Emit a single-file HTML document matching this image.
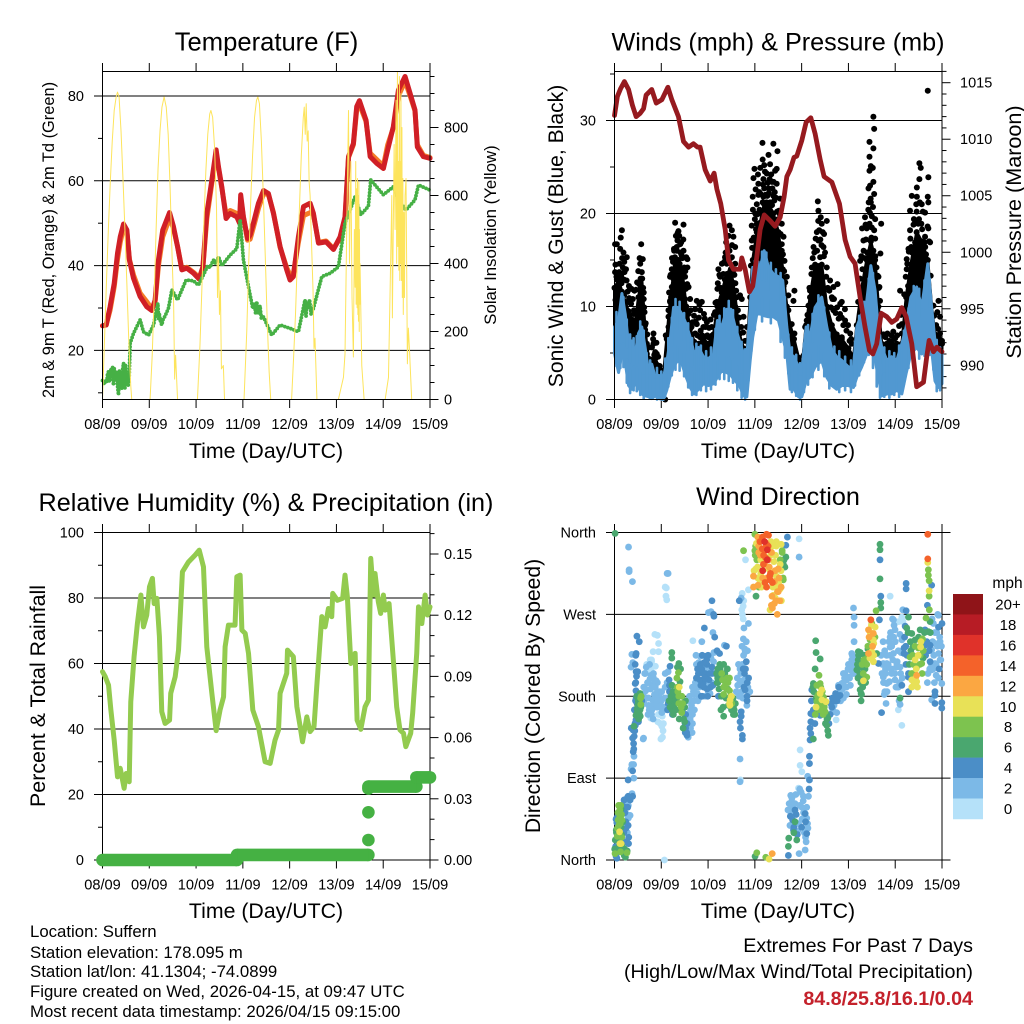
<!DOCTYPE html>
<html lang="en">
<head>
<meta charset="utf-8">
<title>Weather station dashboard</title>
<style>
html,body{margin:0;padding:0;background:#fff;}
svg{display:block;}
text{font-family:"Liberation Sans",Arial,sans-serif;fill:#000;}
.title{font-size:25.2px;text-anchor:middle;}
.axt{font-size:21.3px;text-anchor:middle;}
.foot{font-size:16.8px;}
.ext{font-size:19.7px;text-anchor:end;}
</style>
</head>
<body>
<svg id="chart" xmlns="http://www.w3.org/2000/svg" width="1024" height="1024" viewBox="0 0 1024 1024">
<rect x="0" y="0" width="1024" height="1024" fill="#fff"/>
<defs>
<clipPath id="clip-temp"><rect x="102.5" y="71.5" width="327.5" height="328"/></clipPath>
</defs>
<g id="p1"></g>
<g id="p2"></g>
<g id="p3"></g>
<g id="p4"></g>
<g id="cb"></g>

<text class="title" x="266.5" y="50.5" style="font-size:25.6px">Temperature (F)</text>
<text class="title" x="778" y="50.5">Winds (mph) &amp; Pressure (mb)</text>
<text class="title" x="266" y="511">Relative Humidity (%) &amp; Precipitation (in)</text>
<text class="title" x="778" y="505">Wind Direction</text>

<text class="axt" x="266" y="458">Time (Day/UTC)</text>
<text class="axt" x="778" y="458">Time (Day/UTC)</text>
<text class="axt" x="266" y="918">Time (Day/UTC)</text>
<text class="axt" x="778" y="918">Time (Day/UTC)</text>

<text font-size="16.4" text-anchor="middle" transform="translate(54,240) rotate(-90)">2m &amp; 9m T (Red, Orange) &amp; 2m Td (Green)</text>
<text font-size="16.8" text-anchor="middle" transform="translate(496,235) rotate(-90)">Solar Insolation (Yellow)</text>
<text font-size="21.1" text-anchor="middle" transform="translate(563,236) rotate(-90)">Sonic Wind &amp; Gust (Blue, Black)</text>
<text font-size="21.6" text-anchor="middle" transform="translate(1021,232) rotate(-90)">Station Pressure (Maroon)</text>
<text font-size="21.4" text-anchor="middle" transform="translate(45,696) rotate(-90)">Percent &amp; Total Rainfall</text>
<text font-size="21.1" text-anchor="middle" transform="translate(540,696) rotate(-90)">Direction (Colored By Speed)</text>

<text class="foot" x="30" y="937">Location: Suffern</text>
<text class="foot" x="30" y="958">Station elevation: 178.095 m</text>
<text class="foot" x="30" y="977">Station lat/lon: 41.1304; -74.0899</text>
<text class="foot" x="30" y="997">Figure created on Wed, 2026-04-15, at 09:47 UTC</text>
<text class="foot" x="30" y="1017">Most recent data timestamp: 2026/04/15 09:15:00</text>

<text class="ext" x="973" y="952">Extremes For Past 7 Days</text>
<text class="ext" x="973" y="978">(High/Low/Max Wind/Total Precipitation)</text>
<text class="ext" x="973" y="1005" font-weight="bold" style="fill:#c4212b">84.8/25.8/16.1/0.04</text>
</svg>

<script>
// ---------- shared tick data ----------
const dayLabels = ['08/09','09/09','10/09','11/09','12/09','13/09','14/09','15/09'];
const tempMajorTicks = [20,40,60,80];
const tempMinorTicks = [10,30,50,70];
const solarMajorTicks = [0,200,400,600,800];
const solarMinorTicks = [50,100,150,250,300,350,450,500,550,650,700,750,850,900,950];
const windMajorTicks = [0,10,20,30];
const windMinorTicks = [5,15,25,35];
const pressureMajorTicks = [990,995,1000,1005,1010,1015];
const pressureMinorTicks = [988,989,991,992,993,994,996,997,998,999,1001,1002,1003,1004,1006,1007,1008,1009,1011,1012,1013,1014,1016];
const humidityMajorTicks = [0,20,40,60,80,100];
const humidityMinorTicks = [10,30,50,70,90];
const rainMajorTicks = [0,0.03,0.06,0.09,0.12,0.15];
const rainMinorTicks = [0.01,0.02,0.04,0.05,0.07,0.08,0.1,0.11,0.13,0.14,0.16];
const directionTicks = [0,90,180,270,360];
const directionLabels = ['North','East','South','West','North'];
const speedLabels = ['20+','18','16','14','12','10','8','6','4','2','0'];
const speedColors = ['#8f1418','#b71c25','#e0322a','#f4622a','#fba742','#e8e157','#7dc34f','#4aa76f','#4b8ec7','#7cb9e7','#b5e1f9'];

// ---------- temperature panel ----------
const tempHours = [0,1.9,3.9,6,7.7,9.1,10.8,12.5,13.8,15.9,19.3,22.7,25.3,27,28.7,30.9,34.4,36.4,38.5,40.7,43.2,46.7,49.6,51.5,53.5,56.1,58.3,59.5,61.2,63.4,65.5,68.9,70.3,70.9,72.3,74.4,75.7,77.4,80,82.6,85.1,87.7,91.1,94.5,96.2,97.9,100.5,103.1,106.5,108.2,110.8,114.7,118.5,121.9,124.4,126.2,128.7,130.4,131.8,135.2,137.3,140.7,144.1,146.3,149.2,151.8,155.2,157.8,160.3,161.5,164.6,168];
const temp2m = [25.8,26,30.3,35.8,42.9,46.8,49.8,48.4,41.3,37,32.7,30.3,29.4,31.9,41.3,48.4,52.5,49.2,44.5,39,39.4,38.2,36.8,39.7,52.3,60.2,67.3,63.3,58.6,51.1,52.3,51.5,50,56.7,51.5,46.4,47.2,50,54.7,57.7,57,52.3,44.5,39,36.6,37.4,46.8,53.9,54.7,52.3,45.3,45.6,43.8,46.8,51.5,65.7,68.8,77.5,78.9,74.3,65.7,64.1,62.9,67.3,72.8,81.4,84.6,80.6,76.7,68,65.7,65.3];
const temp9m = [25.8,26,29.5,35,41.5,45.5,49,48,41.5,37.8,33.5,31.5,29.8,31.5,40,46.8,51.2,48.8,44.5,39.2,39.6,38.4,37.2,39.5,51,59.5,66.5,63,58.3,52,53,52.3,50.3,56,51.3,46,46.2,49,53.5,57,56.8,52.5,44.3,39.5,37.8,38,45.5,51.8,52.5,52,45.5,45.8,44,46.5,51,65.5,68.5,76.8,78,74,66.5,65,63.5,68.5,72.5,80,83.5,80,76.5,68.5,66,65.5];
const dewHours = [0,1,1.6,2.2,2.6,3.1,3.5,3.9,4.4,4.9,5.2,5.6,6,6.5,7,7.5,8.2,8.7,9,9.4,9.9,10.3,10.8,11.2,11.5,11.8,12.1,12.5,12.8,13.2,13.7,14.2,15.9,19.3,21,23.6,26.2,28.4,28.8,29.1,29.7,30.4,31.2,32,33.8,35.6,38.5,42.9,46.7,49.2,52.6,54,55,56.9,58,59.5,61.2,65.5,68.9,70.6,72.3,74.9,77.1,78,78.6,79.1,80,80.8,81.5,82.6,86.8,91.1,96.2,100.5,103.9,104.4,104.9,105.6,106.2,107,108.2,112.5,116.8,121,124.4,129.6,132.5,136.4,137.6,144.1,149.2,152.6,155.7,160.3,162.1,168];
const dewPoint = [12.9,12,13,12.4,14.5,15,12.6,13.5,15.8,13.5,16,11.8,15.8,13,15,12.6,9.5,15.4,12,14.5,11,15.4,17,12.5,11,16.5,15,12,14.5,11.8,13.8,21.7,24,27.2,24.4,23.6,26,31.1,27.5,28.7,27,26,27.5,28,29.9,34.3,31.9,36.6,36.4,35.4,38.6,40,39.5,41.3,40.5,42.1,40,42.5,44,50.8,41.3,35,29.9,31,28.5,31.5,28.5,30.5,27.5,27.9,23.6,26,25.2,24.4,31.9,28,31.5,29.9,32,28.5,29.9,37.4,38.2,39.7,50,56.3,52,54,60.2,56.7,58.6,55,53.1,55.5,59,57.8];
const solarHours = [0,1,2,3,4,5,6,7,7.7,8.5,9.5,10.5,11.5,12.5,13.5,14.5,15,
 24.4,25.5,26.5,27.5,28.5,29.5,30.5,31.6,32.7,33.7,34.7,35.7,36.5,37,37.5,38.5,
 48.7,50,51,52,53,54,55,55.6,56.5,57.5,58.5,59,59.5,60,60.5,61,62,62.6,
 72.6,74,75,76,77,78,79,79.7,80.5,81.5,82.5,83.5,84.5,85.5,86.3,
 97,98,99,100,101,102,103,103.5,104,104.5,105,105.5,106,106.5,107,108,108.5,109,110,
 121,123.6,124.4,125.3,126.2,126.7,127.4,128,128.7,129.2,129.6,129.9,130.1,130.4,130.6,130.8,131,131.1,131.3,131.5,131.7,131.8,132,132.1,133,134.2,
 145,146.7,147.5,148.4,148.7,149.6,150.1,150.6,150.9,151.3,151.5,151.8,152,152.3,152.5,152.6,152.9,153.1,153.3,153.6,153.8,154.1,154.3,154.6,154.9,155.2,155.7,156.4,156.9,157.4,158.6];
const solarWatts = [0,170,340,500,640,760,850,890,904,890,790,650,500,340,170,40,0,
 0,130,300,500,680,790,860,890,860,780,620,420,280,60,130,0,
 0,160,330,520,670,780,840,850,830,740,560,300,420,250,320,90,100,0,
 0,200,400,580,720,830,880,890,870,760,600,420,230,80,0,
 0,120,250,420,560,720,830,860,780,870,760,790,640,600,500,320,150,180,0,
 0,65,134,506,850,400,700,300,125,500,330,700,280,620,270,650,250,600,230,640,200,500,280,400,100,0,
 0,65,310,600,240,750,500,880,400,970,450,700,380,950,350,700,400,900,350,800,300,650,250,550,300,600,650,105,210,155,0];

// ---------- winds panel ----------
const pressureHours = [0,1.5,3.2,5.1,7.2,9.2,11.1,13.2,14.9,16.2,19.1,21.4,24.3,27.4,29.4,32.8,35.4,38,40.5,42.6,43.9,46.5,49.1,51.1,52.5,54.5,56.8,58.5,61,64.4,65.3,67,69.2,70.9,73,74.7,76.8,79.8,82.4,85,87,88.4,90.1,92.1,93.5,96.1,98.3,100.7,102.9,105.5,107.5,111.5,115.4,118.3,120.9,123.4,126,128.5,130.8,132.5,134.5,136.8,139.7,142.2,144.8,147.4,149.6,152.5,155,158.5,160.2,161.4,163.6,165.3,168];
const pressureMb = [1012.1,1013.8,1014.5,1015.1,1014.4,1013,1012,1012.3,1012.7,1013.9,1014.4,1013.2,1013.5,1014.6,1013.5,1012,1009.8,1009.3,1009.6,1009.3,1009.3,1007.3,1006.3,1007,1005.6,1004.3,1002,999.3,998.5,998.5,999.5,998.5,996.5,997,999.6,1002,1003.3,1002.8,1002.3,1003.1,1004.9,1006.7,1007.3,1008.4,1008.5,1009.9,1011.5,1011.9,1010.5,1008.2,1006.7,1006.2,1004.3,1001.1,999.6,999,996,993.4,991.3,991,991.9,994.6,994.3,993.8,994.1,995.1,994.3,991.9,988.1,988.5,990.8,992.2,991.2,991.6,991.2];
const sonicHours = [0,2.1,3.8,5.5,7.2,8.9,10.6,12.3,14,15.7,17.4,19.1,20.9,22.6,25.1,26.8,28.5,30.3,32.3,34.6,36.8,38.8,40.9,43.1,45.6,48.2,50.8,52.8,55,57.6,59.7,61.9,64.1,66.2,67.9,69.6,70.9,73,74.7,76.8,79,81.5,84.1,86.3,88.4,90.1,92.1,94.4,96.1,98.3,100.3,102.9,106.3,108.9,111.5,114,116.6,120,122.6,124.3,126.8,129.4,131.5,133.7,135.4,137.1,139.7,142.2,144.8,147.4,149.6,152,155,157.6,160.7,162.7,164.4,166.2,168];
const sonicHigh = [7.8,8.5,11.4,9.2,6,6.3,4.9,7.1,7.8,5.6,3.1,3.8,2.4,2.6,2.4,4,6.3,9.9,9.9,9.2,8.1,6.7,4.9,5.6,4.6,4.4,4.9,8.5,7.8,9.7,9.7,7.8,6.3,4.9,4.6,9.9,14.2,13.9,14.2,16,14.2,13.5,13.2,12.8,7.8,4.9,4.6,3.5,3.1,7.8,6.7,9.9,11,7.8,5.3,4.6,4.2,3.5,3.5,7.8,9.2,10.6,14.4,11.7,7.4,5.6,4.2,4.6,4.2,6,7.8,11,12.1,9.9,14.6,9.9,6.3,5.3,4.9];
const sonicLow = [4.9,2.9,4.9,4,1.5,1.1,1.7,1.3,0.6,0.4,0.3,0.1,0.4,0.1,0,1,2.4,3.5,4.2,3.8,2.4,1.3,0.6,1.1,1.7,1.5,1.7,2.4,3.1,2.9,2.6,2,1.5,0.4,0.3,4.2,6.7,9.2,9.2,9,8.9,8.9,8.5,6.7,4.9,1.1,1.1,0.3,0.3,2,2.4,3.5,4.2,2.4,1.5,1.1,1.5,1.5,1.3,2.4,3.5,4.9,5.6,4.2,2.4,0.4,0.6,0.6,1,0.6,2.8,4.9,5.6,4.9,5.6,5.3,2,1.3,1.7];
const sonicPeakHours = [1,3,4.6,6.3,8,9.8,11.4,13.2,15,16.5,18.3,21.8,24,26,27.6,29.4,31.3,33.4,35.7,37.8,39.8,42,44.3,47,49.5,51.8,53.9,56.3,58.6,60.8,63,65.2,67,68.7,70.2,72,73.8,75.7,77.9,80.2,82.8,85.2,87.4,89.2,91,93.2,95.2,97.2,99.3,101.6,104.6,107.6,110.2,112.8,115.3,118.3,121.3,123.4,125.5,128,130.4,132.6,134.5,136.2,138.4,141,143.5,146,148.5,150.8,153.5,156.3,159,161.7,163.6,165.3,167];
const sonicPeakMph = [9.4,10,11,8.6,7,6.6,6.8,8.4,7.4,5,4.2,3.4,3,4.4,6.6,8.8,10.8,10.5,9.3,8.2,6.6,6,5.8,5.2,5.6,7.6,9,9.8,10.6,9.6,7.8,6.2,5.4,7.4,12.6,14.9,14.8,15.9,15.8,14.7,14,13.6,11,7,5.6,4.8,3.9,6,8,9.2,11.2,9.9,7.2,5.7,5.2,4.6,4.2,6.2,9,10.5,13,13.6,9.9,6.9,5.6,5.2,5,5.8,7.4,9.8,12.2,11.9,12.8,13,8.5,6.4,5.6];
const sonicDipHours = [1,3,4.6,6.3,8,9.8,11.4,13.2,15,18.3,21.8,26,27.6,29.4,31.3,33.4,35.7,37.8,39.8,42,44.3,47,49.5,51.8,53.9,56.3,58.6,60.8,63,65.2,67,68.7,70.2,72,75.7,80.2,85.2,87.4,89.2,91,93.2,95.2,97.2,99.3,101.6,104.6,107.6,110.2,115.3,118.3,121.3,123.4,125.5,128,130.4,132.6,134.5,136.2,138.4,141,143.5,146,148.5,150.8,153.5,156.3,159,161.7,163.6,165.3,167];
const sonicDipMph = [3.6,3.4,3.5,1.8,0.7,1,0.9,0.5,0.1,0.1,0,0.3,1.4,2.6,3.2,3.1,2.5,1.3,0.5,0.5,1,0.9,1.1,1.6,2.2,2.2,2,1.8,1,0.2,0,2,5.2,7.5,8.4,8.2,6.2,4.5,2.8,0.8,0.4,0,0.8,1.6,2.4,3.2,2.5,1.2,0.8,1,0.8,1.5,2.6,4,4.8,3.4,1.4,0.2,0.3,0.2,0.5,0.3,1.7,3.4,4.5,4.4,4.7,4.8,3.2,0.9,1];
const gustCoreHigh = [12,12.8,11.6,10.5,9.5,8.6,8.2,11,13,7.5,4.4,3.4,4.4,3.5,2.6,6.5,10.5,13.5,15,14,10,7.6,6.2,6,6.5,6,7,10,11.5,13.5,14,11,7,5.5,5,11,15,18,19,21,21,20,18,14,10,8,6.5,4.5,3.4,8,11,14.5,14.5,10,8,7,6.5,5.5,4.5,8,12,15,17,15,10,6,6,6,6,6,11,14.5,18,17,15,10,7,6.5,6];
const gustOutlierHours = [
 0.3,1.2,3.8,3.2,2.9,4.6,6.3,2.6,4.3,0.3,1.2,3.4,5.1,6.2,7.4,8.7,10.2,13.7,14.5,13.2,14,13.4,12.7,14.7,13.1,15,7.9,10,15.4,13.4,15.7,1.7,4.9,0.5,
 15.7,20,16.6,20,20.9,21.7,16.6,17.4,20,22,23,25.1,24.3,26,27.7,27.7,27.7,28.5,
 31.1,35.4,32.8,32.3,33.7,31.9,30.6,35.4,37.4,29.4,37.4,28.5,36.2,38,29.4,34.5,36.2,38.8,42.2,44.8,41.4,43.9,39.1,38,42.2,47.4,49.9,45.6,41.4,43.9,48.2,
 59,60.2,61,58.5,57.3,61.9,56.7,53.3,60.2,61.9,64.4,62.4,54.2,52.8,52.5,51.6,61.9,66.2,65.3,67.9,56.7,59.7,58.5,
 75.9,81.5,79,83.6,76,71.8,71.3,76.8,79.8,82.4,78.1,76.4,80.7,83.2,73.8,79,74.3,70.9,76.4,81.5,85,73,72.2,78.1,84.3,70.4,73,85.8,70.4,86.7,85.8,87.2,88.4,92.3,89.2,91.8,89.2,90.9,92.3,96.9,95.7,94.7,92.6,
 104.3,104.6,105.8,106.3,108.9,103.8,107.5,104.6,102.1,107.2,105.5,101.2,108.9,102.9,110.6,114.4,112.3,100.3,116.6,111.5,99.5,112.3,98.6,115.7,118.3,97.8,120.9,121.7,116.6,
 132.8,133.2,130.8,132.8,130.8,131.5,132.5,130.8,132.8,131.1,130.3,133.2,131.5,131,128.5,133.7,136.8,129.4,132,133.7,127.7,136.4,132.8,126,129.4,135.4,135.9,146.5,143.4,
 156.4,157.1,156.4,161,155.1,160.7,152.5,155.1,157.6,161,151.6,159.3,154.2,161,151.6,161.9,159.3,150.8,149.9,156.8,149.9,153.3,151.6,166.2,163.6,165.6,167,147.4,147.4,164.4,166.2,168,160.7];
const gustOutlierMph = [
 16.7,16.7,18.2,17.4,16.2,15.8,15.3,14.6,14.2,13.7,12.9,13.3,13.7,12.8,12.2,11.9,11.7,16.7,15.1,14.6,13.7,13,12.4,12,11.1,10.8,10.4,9.6,9.4,9,8,11.3,11.2,10.7,
 6.9,7.1,6,6,5.1,4.9,4.9,4.4,4.2,3.7,2.9,2.4,2,0,7.8,8.9,9.6,10.6,
 19,18.8,18.1,17.1,16.7,16.4,16,16,15.1,14,14.2,13.2,13.2,12.1,12.1,11.7,10.8,10.8,10.6,10.5,9.7,9.6,9.6,9.2,8.1,8.3,7.8,7.8,7.1,6.7,6.7,
 18.7,18.2,17.5,17.6,16.9,16.4,15.3,14,15.3,14.6,11.2,11.7,13.2,11.9,10.5,9.4,10,8.9,10.8,7.8,11.7,12.8,13.5,
 27.6,27.5,26.3,26.7,25.8,24.8,23.8,25.2,25.3,24.6,24.3,23.7,23.4,23.2,23.2,22.7,22.3,21.8,21.8,21.9,21.6,21,20,20.7,20.3,18.7,18.9,18.9,17.1,17.5,16,14.9,13.2,11.7,11.2,10.6,9.6,8.1,7.1,4.7,4,3.1,5.3,
 21.3,20.3,19.6,18.9,19.2,18,17.8,17.1,16.4,16.4,15.3,14.2,14.2,13.5,12.8,12.4,12.1,11.7,10.5,11,10.1,9.6,8.5,9.2,8.5,7.8,7.1,6,6.7,
 30.4,29.1,27.7,27,26.1,25.1,24.9,24.6,23.4,23,22.7,22.1,21.2,20.1,19.6,19.4,18.9,18.4,18.5,17.3,17.1,15.7,16,14.9,14,13.2,12.1,11.7,6.5,
 25.4,24.9,23.7,23.9,22.8,21.8,21.9,21.8,21,21.2,20.3,20.1,19.2,18.4,18.2,16.9,17.5,16.2,15.1,15.3,14,13.2,12.1,10.6,10.1,9.4,8.9,8.1,7.1,7.8,6.7,6.3,33.2];
const gustDay1Hours = [0.5,1,1.8,2.4,3.6,3.9,5,4.8,5.9,6.7,7.5,7.9,8.5,9.4,9.8,11,11.6,12.2,12.9,13.5,14.2,15,15.2];
const gustDay1Mph = [14.5,13.2,12.9,13.7,12.5,15.2,14.8,12.9,14,11.6,10.9,12,10.3,10.8,9.2,11.8,12.6,13.8,15.2,12,13,11.5,9.9];
const gustLull1Hours = [16,16.8,17.8,18.6,19.2,19.8,20.4,21,21.5,22.4,23.2,24,24.8,25.6,26.3,17,19];
const gustLull1Mph = [8.2,7,5.6,4.3,5.6,6.5,4.8,3.9,6.1,4.6,3.6,3.1,2.9,2.1,6.9,3.5,3.2];
const gustDay2Hours = [28,28.8,29.5,30,30.5,31,31.5,32,32.7,33.2,33.8,34.2,34.8,35.3,35.8,36.3,36.8,37.3,30.2,31.4,32.4,33.4,34.4,35.5,36.6,29];
const gustDay2Mph = [11.5,13.4,15.2,14.8,16.2,15.3,17.6,16,15,17.6,15.8,16.9,15.2,17.2,14.2,13.8,15.3,12.4,13,14.4,17.9,14.6,15.5,13.6,11.9,11];
const gustLull2Hours = [40,40.8,41.6,42.5,43.3,44.2,45,45.9,46.7,47.6,48.5,49.3,50.2,51,51.8,39.5,43.6,46.3];
const gustLull2Mph = [8.3,9,8.4,6.9,8.8,7.4,6.9,9.2,7.8,6.9,7.7,8.6,6.9,9.1,10.4,7.8,10.2,8.7];
const gustDay3Hours = [53,53.8,54.5,55.1,55.8,56.3,57,57.6,58.2,59,59.6,60.3,60.8,61.5,62,62.8,63.3,54.8,56.6,58,59.4,60.6,64,65,66,67];
const gustDay3Mph = [12.5,13.4,12,14.6,13.5,14.8,15.8,14.6,16.4,16,15.2,16.6,13.8,13.4,12.5,11,9.6,10.8,12.9,12.5,13.8,12.6,8.8,7.8,7.2,6.3];
const gustStormHours = [70,70.6,71.4,72,72.6,73.2,73.8,74.4,75,75.6,76.2,76.8,77.4,78,78.6,79.2,79.8,80.4,81,81.6,82.2,82.8,83.4,84,84.6,85.2,85.8,86.4,87,87.6,71,72.4,73.6,74.8,76,77.2,78.4,79.6,80.8,82,83.2,84.4,85.6,86.8];
const gustStormMph = [14.4,16.3,17.4,19.4,18.3,19.9,22,20.4,22.1,19.9,23.1,22.7,22,21.2,23.3,22.2,21.2,24.2,22.7,23.4,22.3,21.7,20.2,19.4,20,17.8,16.7,15.6,13.8,12.6,20.4,22.6,24.2,24.9,21.2,24.5,21.9,23.7,20.9,21.4,24.8,19,15.4,12.2];
const gustDay5Hours = [99,100,101,101.7,102.5,103.2,103.9,104.5,105,105.6,106.2,106.8,107.4,108,108.6,109.4,110.2,111,111.8,112.6,113.4,114.2,115,115.8,116.6,117.4,118.2,119,119.8,120.6,121.4];
const gustDay5Mph = [9.1,12,13.5,15.2,15.8,17.3,16,19.2,18.2,17.2,16.6,18,15.4,15.8,13.2,12,11.7,9.9,10.8,10.8,9.3,9.9,8.7,10.3,8.8,8,9.7,7.4,8,6.3,6.5];
const gustDay6Hours = [125,126,126.6,127.2,127.8,128.4,129,129.6,130.2,130.8,131.4,132,132.6,133.2,133.8,134.4,135,135.6,136.2,127,128.8,130.4,131.8,133];
const gustDay6Mph = [10.5,13,15.4,14,16,15.2,17.2,15.8,20.4,18.9,21.6,19.7,20.7,18.2,15.4,14.2,13.3,12,10.6,18.4,18.8,21.2,17.4,14.5];
const gustDay7Hours = [138,139,140,141,142,143,144,145,146,147,148.6,149.4,150.2,151,151.8,152.6,153.4,154.2,155,155.8,156.6,157.4,158.2,159,159.8,160.6,161.4,162.2,150.6,152.2,153.6,154.8,156.2,157.8,159.4,160.2,163,164,165,166,167];
const gustDay7Mph = [7,6.7,7.1,6.3,6.9,7.3,6.6,6.9,7.9,9.1,11.3,13.2,14.6,15.9,17.3,15.8,18.8,16.9,20.2,18.9,21.2,18.9,20.2,16.9,15.6,18.6,17,13.3,12.2,16.4,19.4,21,19.4,18.3,16.4,14,9.1,9,8,7.6,7.1];

// ---------- humidity panel ----------
const humidityHours = [0,1.4,3.1,4.3,6,7.7,9.1,11.1,12.1,13.7,14.5,16.2,17.9,19.7,21,22.7,24.1,25.6,26.5,27.9,29.2,30.4,32.1,34.4,35,37.3,39,41,44.1,47.5,49.6,51.8,53.5,56.1,58.3,60.3,62.1,62.9,64.6,68,68.9,70.6,71.5,73.2,74.9,77.1,80,83.4,86,88.5,90.3,91.1,94.5,94.9,97.9,99.7,101.4,102.6,104.8,106.5,108.5,109.9,112.5,114.2,115.9,117.6,118.1,120.5,123.2,124.4,125.6,127.4,129.6,130.6,132.5,134.7,136.4,137.6,139,139.8,141.5,142.7,144.1,145,147,149.2,150.9,152.6,154.4,155.6,158.1,159.1,161.2,162.1,163.8,165.5,166.7,168];
const humidityPct = [57.5,56,53.4,45.8,36.6,25.4,28,21.9,26.4,23.9,48.3,62.1,72.2,80.9,71.2,74.8,83.4,86,78.3,79.9,68.2,45.3,41.7,42.7,50.9,56,64.1,88,91,93.1,94.6,89.5,65.1,50.9,39.5,45.8,49.8,65.1,71.7,71.7,86.5,87,70.2,69.2,63.1,45.8,40.7,30,29.5,36.6,39.7,50.9,57,64.1,62.1,46.8,40.7,36.1,43.7,39.2,40.7,52.9,74.3,71.2,76.8,74.3,81.4,79.3,79.9,87,80.4,60,63.1,42.7,39.9,46.8,48.8,92.1,80.9,87.5,78.8,75.3,80.9,76.3,78.3,61,46.8,39.7,38.7,34.6,38.7,44.8,63.1,77.3,72.2,80.9,74.8,77.3];
const rainHours = [0,69,69,136.4,136.4,136.4,136.4,136.4,161,161,168];
const rainInches = [0,0,0.0025,0.0025,0.0098,0.0234,0.035,0.036,0.036,0.0405,0.0405];

// ---------- wind direction panel ----------
const dirHours = [
 0.1,0.3,0.8,1.2,1,1.2,1.5,1.9,2.2,2.4,2.6,2.8,2.6,3,3.4,3.7,3.4,3.6,3.8,5,5.6,6.4,5.6,6.6,7.3,7,6.4,5.4,4.9,7,6.2,7.1,8,8,9.3,9,7,9.9,9.3,9.8,8.5,8.9,10,9.6,
 0.3,7.2,7.5,7.5,9.2,
 9.9,9.5,9.3,8.6,10.5,11,12,11.6,12,13.7,13.5,13.1,12.4,13.1,11,10.9,11.3,11.9,10.6,9.4,12.7,10.9,14.7,10,12.3,15,16,17,15.8,17,18,19,19.8,20.7,18.8,20,20.9,19.2,21.4,22,22.7,23.6,24.3,25.1,24.6,24.9,25.4,19,17.5,19.5,27,26.4,26.8,26.6,
 22,22.6,22.6,18.3,23.8,24.3,18.6,14.9,11.5,8.9,11.1,8.5,11.1,10.6,27.5,26,
 29.4,29.4,28.5,27.5,26,27.4,28.2,28,29.5,29.7,30.6,31.3,32,33.2,32.8,33.6,32.3,33,33.9,34.4,33,34.5,35.4,36.4,36.5,37.2,36,36.3,37.2,38.2,39,40,40,39.3,40,
 41.2,42.1,42,42.6,43.2,44,45,45.5,46.5,47.4,48,46,48,44.8,46.1,48.2,49.5,50,50.8,51,50.5,51.4,40.2,46.8,49.3,50,
 52.6,53.9,57.4,56.4,54,53,52.9,52.7,55,56,57.9,59,58.2,57.6,56,58.1,60,60,59.2,59,60,61,54.6,56,61,
 63,64.4,65.5,66.7,65.8,67,67,68,67.9,68.1,66.2,66.8,67.6,67.1,66.1,68.2,68.7,66.4,65.4,65.6,66,66,65.5,65.3,64,65,66.3,64.6,64.4,65,65,65.6,65.6,64.4,64.4,64.6,
 66.2,67.2,68.7,72.6,
 72,73.5,74,74.6,75.9,78,79,78,77,76.5,78.4,79,75,73,72.5,71.3,71.3,73.5,75,76,78,79.8,81,82,83,84,85,86,87,85.5,84,82.9,81.5,80.5,82.5,79.8,81,83.5,85,86.5,86.6,85.5,83,81,80,77,79,74,76,72,
 88.7,87.9,87.9,94.7,94.7,72.1,73,77.6,79.3,80.9,25.6,
 89.2,89.2,89.4,92.6,93.5,94.7,97.8,98.3,98.6,91.8,90.6,90.9,90.4,92.6,96.1,97.8,99,98.6,96.9,99.5,96.1,94.4,100,99.1,96.1,95.2,95.2,100,100,
 100.3,100.7,100.7,102,100.3,100.7,101.2,102,
 103.2,103.4,105.5,102.9,104.9,103.8,105.5,106.3,105.5,107.2,108.5,103.8,103.4,102,106.3,108,109.4,108.9,109.7,105.5,111.5,112.3,113.7,114,115.7,113.2,117.4,114.9,116.6,119.1,117.4,120.9,120,122.6,122.9,122.9,122.9,121.7,121.7,
 125.1,125,124.3,127.7,129.4,126.8,127.7,126,126.5,126.5,
 130.3,131.1,131.5,130.3,132.8,133.7,132.8,132,132.8,134.2,136.2,136.2,136.2,136.2,136.6,136.6,136.6,135.9,134.5,135.4,141.4,137,139.3,
 137.9,138.7,139.7,138.7,141.4,143.1,143.9,141.4,143.1,144.8,142.2,139.7,143.9,145.6,137.9,146.5,147.4,145.6,146.5,146,147.4,146.5,
 149.6,149.6,147.9,149.6,150.8,149.1,149.9,152.5,156.8,154.2,158,157,155.9,153,148.5,148.5,151.6,154.2,156.8,155,157.6,155,153.3,152.5,155,150.8,147.4,152.5,150.8,
 162.7,160.7,160.7,160.7,161,161,161.4,161.4,161.4,160.5,161.5,159.8,161.9,159.3,161,159.3,161.9,163.6,166.2,166.2,162.7,164.4,167,166.2,161.9,164.4,167,162.7,165,167.9,164.4,164.4,162.7,164.4,167.9,167.9];
const dirDegrees = [
 12,7,4,2,30,41,35,44,38,30,52,18,31,47,36,25,56,50,60,5,3,8,20,30,25,38,50,58,66,70,62,46,49,66,70,73,88,90,98,105,100,105,114,119,
 359,344,319,317,306,
 122,143,134,145,150,159,164,172,178,180,171,165,155,183,186,195,202,207,215,217,240,225,133,147,152,180,188,195,205,209,215,218,229,248,203,200,190,192,197,185,180,170,162,150,135,142,165,160,170,176,315,290,286,299,
 247,238,229,220,133,147,156,134,246,226,227,212,207,194,315,300,
 228,222,213,207,205,190,185,175,165,160,172,176,200,190,206,196,212,216,210,180,172,162,167,175,160,150,152,140,137,140,165,175,160,150,190,
 182,190,200,210,217,224,180,195,205,215,225,190,183,240,255,272,273,285,270,268,250,245,241,224,190,205,
 230,227,235,236,215,210,200,195,205,215,210,200,195,188,182,178,180,175,170,172,165,160,165,158,168,
 200,210,197,205,178,187,199,180,170,195,225,232,240,229,243,230,260,255,235,270,279,265,293,275,285,288,285,145,152,158,163,137,133,111,86,88,
 340,330,297,290,
 358,355,345,350,355,358,357,348,340,335,341,330,330,330,320,312,300,310,315,310,300,308,305,306,312,320,330,340,330,300,295,285,291,280,288,275,277,270,298,310,325,347,350,345,335,325,320,300,318,340,
 355,346,333,353,333,4,8,3,1,7,0,
 5,15,24,42,22,7,11,20,29,33,51,64,71,55,58,51,40,46,70,70,73,79,88,92,97,104,121,106,114,
 132,139,152,133,145,161,187,194,
 241,228,221,210,203,192,194,187,183,179,174,174,168,165,170,163,156,148,137,159,168,163,154,179,181,176,178,192,194,198,205,209,201,277,267,258,240,227,220,
 229,220,209,211,201,203,197,187,183,175,
 227,242,264,253,249,256,242,229,218,274,347,341,330,309,290,283,277,264,227,216,290,162,172,
 216,205,194,185,245,264,253,234,227,216,205,216,198,190,201,212,267,165,171,175,148,178,
 304,298,275,274,267,257,255,249,253,242,243,234,233,234,233,227,223,220,225,212,216,203,205,198,196,201,192,190,185,
 302,331,358,327,319,313,307,296,290,280,275,266,262,253,251,236,236,260,269,256,231,238,240,227,218,216,220,209,203,194,185,181,176,172,173,167];
const dirSpeeds = [
 7,8,4,5,6,5,8,8,9,7,8,10,10,8,7,8,7,8,4,6,6,8,4,3,4,4,3,4,4,4,3,3,3,4,4,3,5,3,4,3,3,3,3,4,
 6,2,2,2,2,
 4,4,4,4,4,6,6,5,7,8,8,6,6,7,4,5,4,4,4,3,4,4,3,6,4,3,3,2,3,1,2,1,1,1,2,3,3,2,2,3,2,2,2,1,1,1,2,2,2,2,2,1,1,1,
 1,1,1,1,1,1,1,3,4,3,4,3,4,4,2,1,
 6,6,4,3,2,3,5,6,6,5,6,7,8,10,8,7,7,7,7,7,8,8,7,6,5,4,7,4,4,3,3,3,3,3,3,
 3,3,4,4,3,3,4,4,4,4,4,3,3,3,4,2,3,4,4,4,3,4,1,4,4,4,
 4,4,4,3,6,7,7,6,8,7,7,8,8,8,8,7,10,7,10,10,6,7,6,6,7,
 3,3,3,4,3,4,3,4,3,4,3,3,3,3,2,3,3,2,2,1,1,1,1,1,4,3,1,4,4,4,4,4,4,2,2,1,
 8,1,1,6,
 8,12,12,14,14,14,14,12,12,14,16,12,10,8,10,12,12,10,10,12,14,14,14,12,10,12,8,8,6,12,12,12,10,12,10,10,12,12,10,8,6,10,10,10,10,12,10,8,8,8,
 4,4,6,1,2,6,8,8,10,12,1,
 4,6,6,6,6,3,3,3,4,4,3,3,2,4,3,4,3,3,3,3,1,1,4,3,1,1,1,4,4,
 4,4,4,6,4,4,5,6,
 6,6,7,6,8,8,8,10,10,8,10,8,10,5,7,8,6,6,6,5,4,3,1,4,4,4,3,3,3,3,3,3,3,2,2,2,2,3,3,
 6,6,6,7,8,7,10,7,7,6,
 12,8,14,12,12,10,10,10,10,8,6,6,4,6,4,6,6,4,6,4,1,4,2,
 2,2,2,2,2,2,2,2,2,2,2,2,2,2,2,2,1,1,2,2,1,6,
 4,4,3,4,6,4,6,6,7,6,8,10,8,7,4,4,8,10,8,8,8,12,8,10,10,5,4,10,4,
 4,14,14,10,8,8,8,10,8,4,8,8,7,4,6,4,4,2,2,4,3,2,2,2,4,3,2,2,2,3,4,4,2,4,4,4];

const dirNorthHours = [.4,.9,1.4,1.8,2.1,2.5,2.9,3.2,3.6,4,.6,1.3,2,2.7,3.4,4.2,4.8,5.3,5.8,6.3,6.8,7.2,5.2,5.9,6.5,7.1,.8,1.6,2.3,3.1,3.8];
const dirNorthDegrees = [22,33,26,52,60,46,40,60,28,15,15,12,22,55,18,42,30,52,42,68,58,18,12,35,10,60,45,48,15,9,44];
const dirNorthSpeeds = [6,7,8,8,8,8,8,8,7,6,4,6,6,8,10,6,4,4,4,3,4,4,6,4,7,3,4,4,7,8,8];
const dirBackHours = [9.8,10.1,10.4,10.7,11,11.3,11.6,11.9,12.2,12.5,12.8,13.1,13.4,10.2,10.8,11.4,12,12.6,13.2,11.1,11.7,12.3,12.9,13.5,14];
const dirBackDegrees = [128,136,142,148,154,160,166,170,175,178,160,172,178,165,175,180,168,163,158,178,162,173,180,168,175];
const dirBackSpeeds = [4,4,4,5,5,6,6,6,7,7,6,7,8,4,4,6,6,7,6,4,6,6,6,7,4];
const dirCalm1Hours = [14.5,15,15.5,16,16.5,17,17.5,18,18.5,19,19.5,20,20.5,21,21.5,22,22.5,23,23.5,24,24.5,25,25.5,26,15.2,16.3,17.2,18.2,19.2,20.2,21.2,22.2,23.2,24.2,16.8,17.8,18.8,19.8,20.8,21.8];
const dirCalm1Degrees = [180,190,205,186,215,195,178,210,188,220,170,205,182,213,175,195,160,185,150,175,158,168,178,190,172,212,160,199,165,190,178,152,168,185,178,165,208,155,196,168];
const dirCalm1Speeds = [3,2,2,2,1,2,2,1,2,1,2,2,3,1,3,2,1,2,1,2,1,2,2,3,3,2,2,2,2,3,3,1,2,3,2,2,1,2,2,2];
const dirDay2Hours = [26.5,27,27.5,28,28.5,29,29.5,30,30.5,31,31.5,32,32.5,33,33.5,34,34.5,35,35.5,36,36.5,37,28.2,29.2,30.2,31.2,32.2,33.2,34.2,35.2,36.2,27.2];
const dirDay2Degrees = [178,195,172,198,168,180,192,185,170,180,165,178,185,180,165,172,180,172,155,168,145,140,192,176,160,165,190,155,168,145,150,165];
const dirDay2Speeds = [3,3,4,4,6,6,7,6,6,7,6,7,8,8,7,8,8,8,7,6,4,4,4,6,6,7,8,6,8,6,4,4];
const dirCalm2Hours = [37.5,38,38.5,39,39.5,40,40.5,41,37.8,38.8,39.8,40.8];
const dirCalm2Degrees = [175,160,180,145,170,150,185,165,135,155,140,175];
const dirCalm2Speeds = [3,3,2,3,2,3,3,2,3,2,3,3];
const dirNight2Hours = [41.5,42,42.5,43,43.5,44,44.5,45,45.5,46,46.5,47,47.5,48,48.5,49,49.5,50,50.5,51,51.5,41.8,42.8,43.8,44.8,45.8,46.8,47.8,48.8,49.8,50.8,43.3,44.3,45.3,46.3,47.3,48.3,49.3];
const dirNight2Degrees = [195,215,183,205,190,215,180,225,205,217,180,200,188,210,198,183,222,212,192,228,205,225,175,198,210,190,213,180,205,195,218,178,192,215,200,220,195,210];
const dirNight2Speeds = [3,3,3,4,3,4,4,4,4,4,3,4,4,3,4,3,3,4,4,3,4,2,3,4,4,4,3,4,4,3,3,3,4,3,4,4,3,3];
const dirDay3Hours = [52.4,53,53.6,54.2,54.8,55.4,56,56.6,57.2,57.8,58.4,59,59.6,60.2,60.8,61.4,62,53.3,54.5,55.7,56.9,58.1,59.3,60.5,61.7];
const dirDay3Degrees = [205,195,188,210,180,198,190,205,178,200,170,186,180,172,178,165,172,180,200,168,195,188,176,166,160];
const dirDay3Speeds = [6,6,7,7,6,8,8,6,7,8,7,8,8,8,7,7,7,4,6,6,8,7,10,7,6];
const dirNight3Hours = [62.5,63.2,64,64.8,65.6,66.4,67.2,68,68.8,69.4,63.6,64.4,65.2,66,66.8,67.6,68.4];
const dirNight3Degrees = [185,192,180,205,215,190,210,175,200,185,215,195,185,210,178,218,190];
const dirNight3Speeds = [3,3,3,3,3,4,4,4,4,3,3,3,3,4,3,4,3];
const dirStormHours = [71.6,72.2,72.8,73.4,74,74.6,75.2,75.8,76.4,77,77.6,78.2,78.8,79.4,80,80.6,81.2,81.8,82.4,83,83.6,84.2,84.8,85.4,86,86.6,72.4,73.6,74.8,76,77.2,78.4,79.6,80.8,82,83.2,84.4,85.6,75.4,77.8,80.2,82.6,85,87.4];
const dirStormDegrees = [318,335,348,322,338,305,352,342,325,350,332,310,345,322,315,338,300,328,318,345,295,305,285,318,338,308,345,302,335,318,305,330,312,290,282,300,310,285,300,347,350,335,325,322];
const dirStormSpeeds = [10,8,10,10,12,10,12,14,14,16,14,12,14,12,14,12,10,10,12,10,12,10,12,10,8,8,8,12,12,16,14,16,14,12,12,10,12,10,10,14,10,10,10,6];
const dirRiseHours = [89,89.6,90.2,90.8,91.4,92,92.6,93.2,93.8,94.4,95,95.6,96.2,96.8,97.4,98,98.6,99.2,99.8,90,91,92,93,94,95,96,97,98];
const dirRiseDegrees = [55,62,48,58,44,36,62,50,28,40,60,75,45,65,30,42,58,35,78,38,68,30,72,32,78,36,52,25];
const dirRiseSpeeds = [3,3,4,3,4,4,3,4,4,3,3,2,3,3,3,4,3,3,4,3,3,6,2,3,2,4,3,3];
const dirDay5Hours = [101,101.6,102.2,102.8,103.4,104,104.6,105.2,105.8,106.4,107,107.6,108.2,108.8,109.4,110,110.6,101.8,103,104.2,105.4,106.6,107.8,109];
const dirDay5Degrees = [175,160,185,150,178,165,182,172,190,176,160,168,150,160,142,150,160,190,160,180,165,185,172,155];
const dirDay5Speeds = [5,4,6,4,7,7,8,8,8,10,8,8,7,6,6,4,4,6,8,8,8,8,8,6];
const dirNight5Hours = [111,111.8,112.6,113.4,114.2,115,115.8,116.6,117.4,118.2,119,119.8,120.6,121.4,122.2,123,123.8,112,113,114,115,116,117,118,119,120,121,122,123];
const dirNight5Degrees = [172,178,170,183,175,190,185,178,195,205,190,210,200,215,205,220,212,165,175,162,180,175,188,200,182,215,192,225,205];
const dirNight5Speeds = [4,4,3,4,4,4,3,3,3,3,3,3,2,2,2,3,2,3,4,3,4,3,3,3,2,3,2,3,3];
const dirDay6Hours = [124.6,125.2,125.8,126.4,127,127.6,128.2,128.8,129.4,130,124.9,126.1,127.3,128.5,129.7,125.5,126.7,127.9];
const dirDay6Degrees = [215,225,205,195,215,205,225,195,215,232,200,228,190,210,222,212,182,220];
const dirDay6Speeds = [6,6,7,7,8,8,7,6,8,6,6,6,7,7,8,7,7,8];
const dirGustyHours = [130,130.6,131.2,131.8,132.4,133,133.6,131,132,133];
const dirGustyDegrees = [235,245,250,258,235,225,245,222,260,238];
const dirGustySpeeds = [8,12,10,10,12,10,8,10,8,10];
const dirNight6Hours = [136.8,137.4,138,138.6,139.2,139.8,140.4,141,141.6,142.2,142.8,143.4,144,144.6,145.2,145.8,146.4,147,147.6,137.2,138.4,139.6,140.8,142,143.2,144.4,145.6,146.8,148,137.8,139,140.2,141.4,142.6,143.8,145,146.2,147.4];
const dirNight6Degrees = [225,215,195,230,205,185,215,196,250,235,220,258,240,212,190,262,248,228,200,205,182,225,240,210,245,190,230,205,262,240,210,195,225,265,205,218,195,242];
const dirNight6Speeds = [2,2,2,2,2,2,2,2,2,2,2,2,2,2,2,1,2,2,2,2,2,2,2,2,2,2,2,2,1,2,2,2,2,2,2,2,2,2];
const dirDay7Hours = [148.8,149.4,150,150.6,151.2,151.8,152.4,153,153.6,154.2,154.8,155.4,156,156.6,157.2,157.8,158.4,159,149.5,150.8,152,153.3,154.5,155.8,157,158.3];
const dirDay7Degrees = [245,235,225,250,215,240,205,225,195,235,210,190,245,215,240,205,230,250,215,205,230,215,200,225,235,222];
const dirDay7Speeds = [4,4,4,6,6,7,8,8,10,8,10,10,7,8,10,8,8,6,4,5,6,8,10,10,8,6];
const dirLateHours = [159.6,160.2,160.8,161.4,162,162.6,163.2,163.8,164.4,165,165.6,166.2,166.8,167.4,168,160.5,161.7,162.9,164.1,165.3,166.5,167.7,163.5,165.8];
const dirLateDegrees = [225,240,205,230,250,215,240,225,250,215,235,200,245,220,260,195,210,265,195,250,210,235,210,270];
const dirLateSpeeds = [4,4,3,4,6,3,2,2,3,2,2,3,2,2,4,2,3,2,2,3,4,2,2,2];

// ---------- helpers ----------
const NS = 'http://www.w3.org/2000/svg';
function make(tag, attrs, parent) {
  const el = document.createElementNS(NS, tag);
  for (const k in attrs) el.setAttribute(k, attrs[k]);
  parent.appendChild(el);
  return el;
}
function axis(d0, d1, p0, p1) {
  return function (v) { return p0 + (v - d0) / (d1 - d0) * (p1 - p0); };
}
function pointList(xs, ys, fx, fy) {
  const n = Math.min(xs.length, ys.length);
  const out = [];
  for (let i = 0; i < n; i++) out.push(fx(xs[i]).toFixed(2) + ',' + fy(ys[i]).toFixed(2));
  return out;
}
function seriesLine(parent, xs, ys, fx, fy, style) {
  const attrs = Object.assign({ points: pointList(xs, ys, fx, fy).join(' '), fill: 'none', 'stroke-linejoin': 'round', 'stroke-linecap': 'round' }, style);
  return make('polyline', attrs, parent);
}
function drawBand(parent, xs, hi, lo, fx, fy, color, width) {
  const upper = pointList(xs, hi, fx, fy);
  const lower = pointList(xs, lo, fx, fy).reverse();
  return make('polygon', { points: upper.concat(lower).join(' '), fill: color, stroke: color, 'stroke-width': width, 'stroke-linejoin': 'round' }, parent);
}

function frame(g, box, opt) {
  const L = box.x0, R = box.x1, T = box.y0, B = box.y1;
  const fx = axis(0, 7, L, R);
  dayLabels.forEach(function (lab, i) {
    const x = fx(i);
    const topTick = make('line', { x1: x, x2: x, y1: T, y2: T - 8.5, stroke: '#000', 'stroke-width': 1 }, g);
    
    
    const botTick = make('line', { x1: x, x2: x, y1: B, y2: B + 8.5, stroke: '#000', 'stroke-width': 1 }, g);
    
    
    const t = make('text', { x: x, y: B + 29.5, 'font-size': 14.6, 'text-anchor': 'middle' }, g);
    
    
    t.textContent = lab;
  });
  const ext = opt.gridExtend || 0;
  opt.leftMajor.forEach(function (v, i) {
    const y = opt.fyL(v);
    const grid = make('line', { x1: L - 8.5, x2: R + ext, y1: y, y2: y, stroke: '#000', 'stroke-width': 1 }, g);
    
    
    const t = make('text', { x: L - 18.5, y: y + 5, 'font-size': 14.5, 'text-anchor': 'end' }, g);
    
    
    t.textContent = opt.leftLabels ? opt.leftLabels[i] : String(v);
  });
  (opt.leftMinor || []).forEach(function (v) {
    const y = opt.fyL(v);
    const tick = make('line', { x1: L - 4.5, x2: L, y1: y, y2: y, stroke: '#000', 'stroke-width': 1 }, g);
    
    
  });
  (opt.rightMajor || []).forEach(function (v) {
    const y = opt.fyR(v);
    const tick = make('line', { x1: R, x2: R + 8.5, y1: y, y2: y, stroke: '#000', 'stroke-width': 1 }, g);
    
    
    const t = make('text', { x: R + (opt.rightGap || 14), y: y + 5, 'font-size': 14.5 }, g);
    
    
    t.textContent = opt.rightFormat ? opt.rightFormat(v) : String(v);
  });
  (opt.rightMinor || []).forEach(function (v) {
    const y = opt.fyR(v);
    const tick = make('line', { x1: R, x2: R + 4.5, y1: y, y2: y, stroke: '#000', 'stroke-width': 1 }, g);
    
    
  });
}
function border(g, box) {
  const r = make('rect', { x: box.x0, y: box.y0, width: box.x1 - box.x0, height: box.y1 - box.y0, fill: 'none', stroke: '#000', 'stroke-width': 1 }, g);
  
  
}

// ---------- panel 1: temperature ----------
(function () {
  const g = document.getElementById('p1');
  const box = { x0: 102.5, x1: 430, y0: 71.5, y1: 399.5 };
  const fx = axis(0, 168, box.x0, box.x1);
  const fyL = axis(20, 80, 350.4, 96);
  const fyR = axis(0, 800, 399.5, 127.5);
  frame(g, box, { leftMajor: tempMajorTicks, leftMinor: tempMinorTicks, fyL: fyL, fyR: fyR, rightMajor: solarMajorTicks, rightMinor: solarMinorTicks });
  const orange = seriesLine(g, tempHours, temp9m, fx, fyL, { stroke: '#f47b28', 'stroke-width': 5 });
  
  
  const red = seriesLine(g, tempHours, temp2m, fx, fyL, { stroke: '#d01f26', 'stroke-width': 5 });
  
  
  const dew = seriesLine(g, dewHours, dewPoint, fx, fyL, { stroke: '#46b045', 'stroke-width': 3.8, 'stroke-dasharray': '0 3.2' });
  
  
  const solar = seriesLine(g, solarHours, solarWatts, fx, fyR, { stroke: '#fde45c', 'stroke-width': 1, 'clip-path': 'url(#clip-temp)' });
  
  
  border(g, box);
})();

// ---------- panel 2: winds and pressure ----------
(function () {
  const g = document.getElementById('p2');
  const box = { x0: 614.5, x1: 942, y0: 71.5, y1: 399.5 };
  const fx = axis(0, 168, box.x0, box.x1);
  const fyL = axis(0, 30, 399.5, 120.5);
  const fyR = axis(990, 1015, 365.3, 82.7);
  frame(g, box, { leftMajor: windMajorTicks, leftMinor: windMinorTicks, fyL: fyL, fyR: fyR, rightMajor: pressureMajorTicks, rightMinor: pressureMinorTicks, rightGap: 18 });
  const core = drawBand(g, sonicHours, gustCoreHigh, sonicHigh, fx, fyL, '#000', 3);
  
  
  sonicHours.forEach(function (h, i) {
    const bump = make('circle', { cx: fx(h), cy: fyL(gustCoreHigh[i]), r: 3, fill: '#000' }, g);
    
    
  });
  const gustGroups = [
    [gustOutlierHours, gustOutlierMph], [gustDay1Hours, gustDay1Mph], [gustLull1Hours, gustLull1Mph],
    [gustDay2Hours, gustDay2Mph], [gustLull2Hours, gustLull2Mph], [gustDay3Hours, gustDay3Mph],
    [gustStormHours, gustStormMph], [gustDay5Hours, gustDay5Mph], [gustDay6Hours, gustDay6Mph], [gustDay7Hours, gustDay7Mph]
  ];
  gustGroups.forEach(function (group) {
    const n = Math.min(group[0].length, group[1].length);
    for (let i = 0; i < n; i++) {
      const dot = make('circle', { cx: fx(group[0][i]), cy: fyL(group[1][i]), r: 3, fill: '#000' }, g);
      
      
    }
  });
  const blue = drawBand(g, sonicHours, sonicHigh, sonicLow, fx, fyL, '#5198d1', 3);
  
  
  sonicPeakHours.forEach(function (h, i) {
    const spike = make('line', { x1: fx(h), x2: fx(h), y1: fyL(sonicPeakMph[i]), y2: fyL(sonicPeakMph[i] - 3), stroke: '#5198d1', 'stroke-width': 2.6, 'stroke-linecap': 'round' }, g);
    
    
  });
  sonicDipHours.forEach(function (h, i) {
    const dip = make('line', { x1: fx(h), x2: fx(h), y1: fyL(sonicDipMph[i]), y2: fyL(sonicDipMph[i] + 2.5), stroke: '#5198d1', 'stroke-width': 2.6, 'stroke-linecap': 'round' }, g);
    
    
  });
  const maroon = seriesLine(g, pressureHours, pressureMb, fx, fyR, { stroke: '#961a1f', 'stroke-width': 4.8 });
  
  
  border(g, box);
})();

// ---------- panel 3: humidity and precipitation ----------
(function () {
  const g = document.getElementById('p3');
  const box = { x0: 102.5, x1: 430, y0: 532.5, y1: 860 };
  const fx = axis(0, 168, box.x0, box.x1);
  const fyL = axis(0, 100, 860, 532.5);
  const fyR = axis(0, 0.15, 860, 554);
  frame(g, box, { leftMajor: humidityMajorTicks, leftMinor: humidityMinorTicks, fyL: fyL, fyR: fyR, rightMajor: rainMajorTicks, rightMinor: rainMinorTicks, rightFormat: function (v) { return v.toFixed(2); } });
  border(g, box);
  const line = seriesLine(g, humidityHours, humidityPct, fx, fyL, { stroke: '#93cb4f', 'stroke-width': 5 });
  
  
  rainHours.forEach(function (h, i) {
    const dot = make('circle', { cx: fx(h), cy: fyR(rainInches[i]), r: 6.3, fill: '#45b143' }, g);
    
    
    if (i > 0 && rainInches[i] === rainInches[i - 1]) {
      const run = make('line', { x1: fx(rainHours[i - 1]), x2: fx(h), y1: fyR(rainInches[i]), y2: fyR(rainInches[i]), stroke: '#45b143', 'stroke-width': 12.6 }, g);
      
      
    }
  });
})();

// ---------- panel 4: wind direction ----------
(function () {
  const g = document.getElementById('p4');
  const box = { x0: 614.5, x1: 942, y0: 532.5, y1: 860 };
  const fx = axis(0, 168, box.x0, box.x1);
  const fyL = axis(0, 360, 860, 532.5);
  frame(g, box, { leftMajor: directionTicks, leftLabels: directionLabels, fyL: fyL, gridExtend: 8.5 });
  border(g, box);
  const groups = [
    [dirHours, dirDegrees, dirSpeeds], [dirNorthHours, dirNorthDegrees, dirNorthSpeeds], [dirBackHours, dirBackDegrees, dirBackSpeeds],
    [dirCalm1Hours, dirCalm1Degrees, dirCalm1Speeds], [dirDay2Hours, dirDay2Degrees, dirDay2Speeds], [dirCalm2Hours, dirCalm2Degrees, dirCalm2Speeds],
    [dirNight2Hours, dirNight2Degrees, dirNight2Speeds], [dirDay3Hours, dirDay3Degrees, dirDay3Speeds], [dirNight3Hours, dirNight3Degrees, dirNight3Speeds],
    [dirStormHours, dirStormDegrees, dirStormSpeeds], [dirRiseHours, dirRiseDegrees, dirRiseSpeeds], [dirDay5Hours, dirDay5Degrees, dirDay5Speeds],
    [dirNight5Hours, dirNight5Degrees, dirNight5Speeds], [dirDay6Hours, dirDay6Degrees, dirDay6Speeds], [dirGustyHours, dirGustyDegrees, dirGustySpeeds],
    [dirNight6Hours, dirNight6Degrees, dirNight6Speeds], [dirDay7Hours, dirDay7Degrees, dirDay7Speeds], [dirLateHours, dirLateDegrees, dirLateSpeeds]
  ];
  const samples = [];
  groups.forEach(function (group) {
    const n = Math.min(group[0].length, group[1].length, group[2].length);
    for (let i = 0; i < n; i++) samples.push({ h: group[0][i], d: group[1][i], s: group[2][i] });
  });
  samples.sort(function (a, b) { return a.s - b.s; });
  samples.forEach(function (p) {
    const bin = Math.min(10, Math.floor(p.s / 2));
    const dot = make('circle', { cx: fx(p.h), cy: fyL(p.d), r: 3.4, fill: speedColors[10 - bin] }, g);
    
    
  });
})();

// ---------- colorbar ----------
(function () {
  const g = document.getElementById('cb');
  const top = 594, cell = 20.45;
  const head = make('text', { x: 1007.5, y: 588, 'font-size': 15.5, 'text-anchor': 'middle' }, g);
  
  
  head.textContent = 'mph';
  speedLabels.forEach(function (lab, i) {
    const r = make('rect', { x: 953, y: top + i * cell, width: 30, height: cell + 0.3, fill: speedColors[i] }, g);
    
    
    const t = make('text', { x: 1008, y: top + i * cell + 15.5, 'font-size': 15, 'text-anchor': 'middle' }, g);
    
    
    t.textContent = lab;
  });
})();
</script>
</body>
</html>
